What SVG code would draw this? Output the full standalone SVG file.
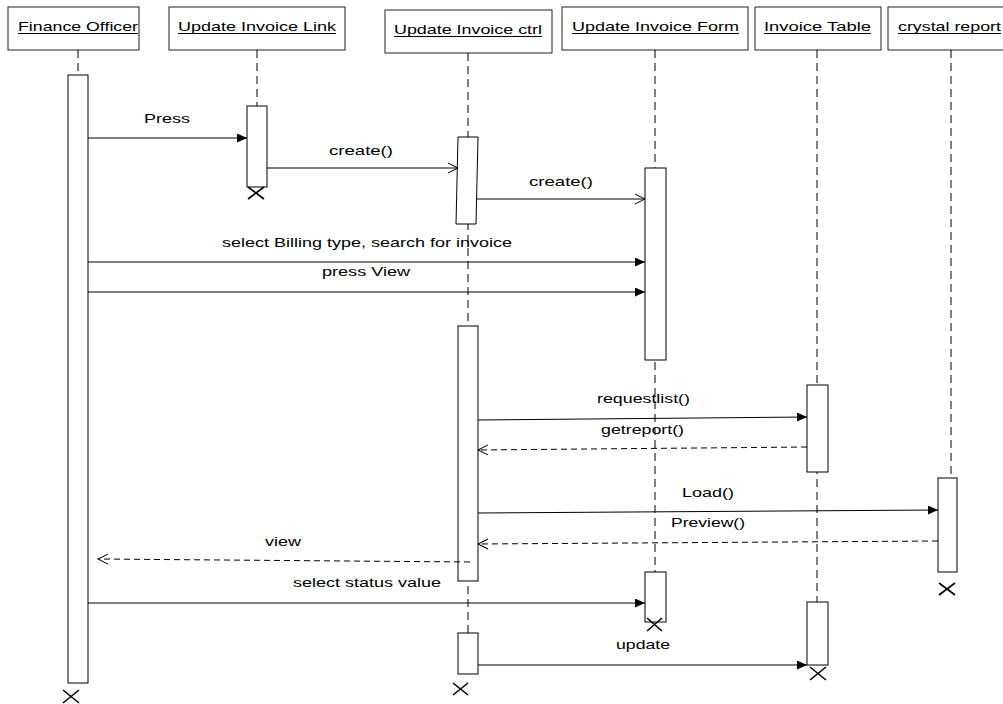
<svg xmlns="http://www.w3.org/2000/svg" width="1003" height="704" viewBox="0 0 1003 704">
<style>
.hdr{fill:#fff;stroke:#222;stroke-width:1}
.ht{font-family:"Liberation Sans",Arial,sans-serif;font-size:13px;fill:#000}
.ul{stroke:#000;stroke-width:1}
.life{stroke:#000;stroke-width:1;stroke-dasharray:8,5;fill:none}
.act{fill:#fff;stroke:#000;stroke-width:1}
.msg{stroke:#000;stroke-width:1;fill:none}
.ret{stroke:#000;stroke-width:1;fill:none;stroke-dasharray:6,4}
.lbl{font-family:"Liberation Sans",Arial,sans-serif;font-size:13px;fill:#000}
.x{stroke:#000;stroke-width:1.6}
</style>
<defs>
<marker id="fa" markerUnits="userSpaceOnUse" markerWidth="11" markerHeight="9" refX="10" refY="4.5" orient="auto"><path d="M0,0 L10,4.5 L0,9 z" fill="#000"/></marker>
<marker id="oa" markerUnits="userSpaceOnUse" markerWidth="12" markerHeight="12" refX="11" refY="6" orient="auto"><path d="M1,1 L11,6 L1,11" fill="none" stroke="#000" stroke-width="1"/></marker>
</defs>
<rect width="1003" height="704" fill="#fff"/>

<g id="finance-officer">
<rect class="hdr" x="8" y="7" width="131" height="43"/>
<text class="ht" x="18" y="31" textLength="120" lengthAdjust="spacingAndGlyphs">Finance Officer</text>
<line class="ul" x1="18" y1="33.5" x2="138" y2="33.5"/>
<line class="life" x1="78" y1="50" x2="78" y2="75"/>
<rect class="act" x="68" y="75" width="20" height="608"/>
<line class="x" x1="63" y1="690" x2="79" y2="703"/><line class="x" x1="79" y1="690" x2="63" y2="703"/>
</g>

<g id="update-invoice-link">
<rect class="hdr" x="169" y="7" width="176" height="43"/>
<text class="ht" x="178" y="31" textLength="158" lengthAdjust="spacingAndGlyphs">Update Invoice Link</text>
<line class="ul" x1="178" y1="33.5" x2="336" y2="33.5"/>
<line class="life" x1="257" y1="50" x2="257" y2="106"/>
<rect class="act" x="247" y="106" width="20" height="81"/>
<line class="x" x1="248" y1="187" x2="264" y2="199"/><line class="x" x1="264" y1="187" x2="248" y2="199"/>
</g>

<g id="update-invoice-ctrl">
<rect class="hdr" x="385" y="10" width="167" height="43"/>
<text class="ht" x="394" y="34" textLength="148" lengthAdjust="spacingAndGlyphs">Update Invoice ctrl</text>
<line class="ul" x1="394" y1="36.5" x2="542" y2="36.5"/>
<line class="life" x1="468" y1="53" x2="468" y2="633"/>
<polygon class="act" points="458,137 478,137 476,224 456,224"/>
<rect class="act" x="458" y="326" width="20" height="255"/>
<rect class="act" x="458" y="633" width="20" height="41"/>
<line class="x" x1="453" y1="683" x2="468" y2="695"/><line class="x" x1="468" y1="683" x2="453" y2="695"/>
</g>

<g id="update-invoice-form">
<rect class="hdr" x="562" y="7" width="186" height="43"/>
<text class="ht" x="572" y="31" textLength="167" lengthAdjust="spacingAndGlyphs">Update Invoice Form</text>
<line class="ul" x1="572" y1="33.5" x2="739" y2="33.5"/>
<line class="life" x1="655" y1="50" x2="655" y2="572"/>
<rect class="act" x="645" y="168" width="21" height="192"/>
<rect class="act" x="645" y="572" width="21" height="50"/>
<line class="x" x1="647" y1="618" x2="662" y2="631"/><line class="x" x1="662" y1="618" x2="647" y2="631"/>
</g>

<g id="invoice-table">
<rect class="hdr" x="755" y="7" width="126" height="43"/>
<text class="ht" x="764" y="31" textLength="107" lengthAdjust="spacingAndGlyphs">Invoice Table</text>
<line class="ul" x1="764" y1="33.5" x2="871" y2="33.5"/>
<line class="life" x1="817" y1="50" x2="817" y2="602"/>
<rect class="act" x="807" y="385" width="21" height="87"/>
<rect class="act" x="807" y="602" width="21" height="63"/>
<line class="x" x1="810" y1="667" x2="826" y2="680"/><line class="x" x1="826" y1="667" x2="810" y2="680"/>
</g>

<g id="crystal-report">
<rect class="hdr" x="888" y="7" width="125" height="43"/>
<text class="ht" x="898" y="31" textLength="103" lengthAdjust="spacingAndGlyphs">crystal report</text>
<line class="ul" x1="898" y1="33.5" x2="1001" y2="33.5"/>
<line class="life" x1="951" y1="50" x2="951" y2="478"/>
<rect class="act" x="938" y="478" width="19" height="94"/>
<line class="x" x1="939" y1="583" x2="955" y2="595"/><line class="x" x1="955" y1="583" x2="939" y2="595"/>
</g>

<g id="connectors">
<line class="msg" x1="88" y1="138" x2="247" y2="138" marker-end="url(#fa)"/>
<text class="lbl" x="144" y="123" textLength="46" lengthAdjust="spacingAndGlyphs">Press</text>
<line class="msg" x1="267" y1="168" x2="458" y2="168" marker-end="url(#oa)"/>
<text class="lbl" x="329" y="155" textLength="64" lengthAdjust="spacingAndGlyphs">create()</text>
<line class="msg" x1="477" y1="199" x2="645" y2="199" marker-end="url(#oa)"/>
<text class="lbl" x="529" y="186" textLength="64" lengthAdjust="spacingAndGlyphs">create()</text>
<line class="msg" x1="88" y1="262" x2="645" y2="262" marker-end="url(#fa)"/>
<text class="lbl" x="222" y="247" textLength="290" lengthAdjust="spacingAndGlyphs">select Billing type, search for invoice</text>
<line class="msg" x1="88" y1="292" x2="645" y2="292" marker-end="url(#fa)"/>
<text class="lbl" x="322" y="276" textLength="88" lengthAdjust="spacingAndGlyphs">press View</text>
<line class="msg" x1="478" y1="420" x2="807" y2="417" marker-end="url(#fa)"/>
<text class="lbl" x="597" y="403" textLength="93" lengthAdjust="spacingAndGlyphs">requestlist()</text>
<line class="ret" x1="807" y1="447" x2="478" y2="450" marker-end="url(#oa)"/>
<text class="lbl" x="601" y="434" textLength="83" lengthAdjust="spacingAndGlyphs">getreport()</text>
<line class="msg" x1="478" y1="513" x2="938" y2="510" marker-end="url(#fa)"/>
<text class="lbl" x="682" y="497" textLength="52" lengthAdjust="spacingAndGlyphs">Load()</text>
<line class="ret" x1="938" y1="541" x2="478" y2="544" marker-end="url(#oa)"/>
<text class="lbl" x="671" y="527" textLength="74" lengthAdjust="spacingAndGlyphs">Preview()</text>
<line class="ret" x1="470" y1="562" x2="98" y2="559" marker-end="url(#oa)"/>
<text class="lbl" x="265" y="546" textLength="36" lengthAdjust="spacingAndGlyphs">view</text>
<line class="msg" x1="88" y1="603" x2="645" y2="603" marker-end="url(#fa)"/>
<text class="lbl" x="293" y="587" textLength="148" lengthAdjust="spacingAndGlyphs">select status value</text>
<line class="msg" x1="478" y1="665" x2="807" y2="665" marker-end="url(#fa)"/>
<text class="lbl" x="616" y="649" textLength="54" lengthAdjust="spacingAndGlyphs">update</text>
</g>
</svg>
